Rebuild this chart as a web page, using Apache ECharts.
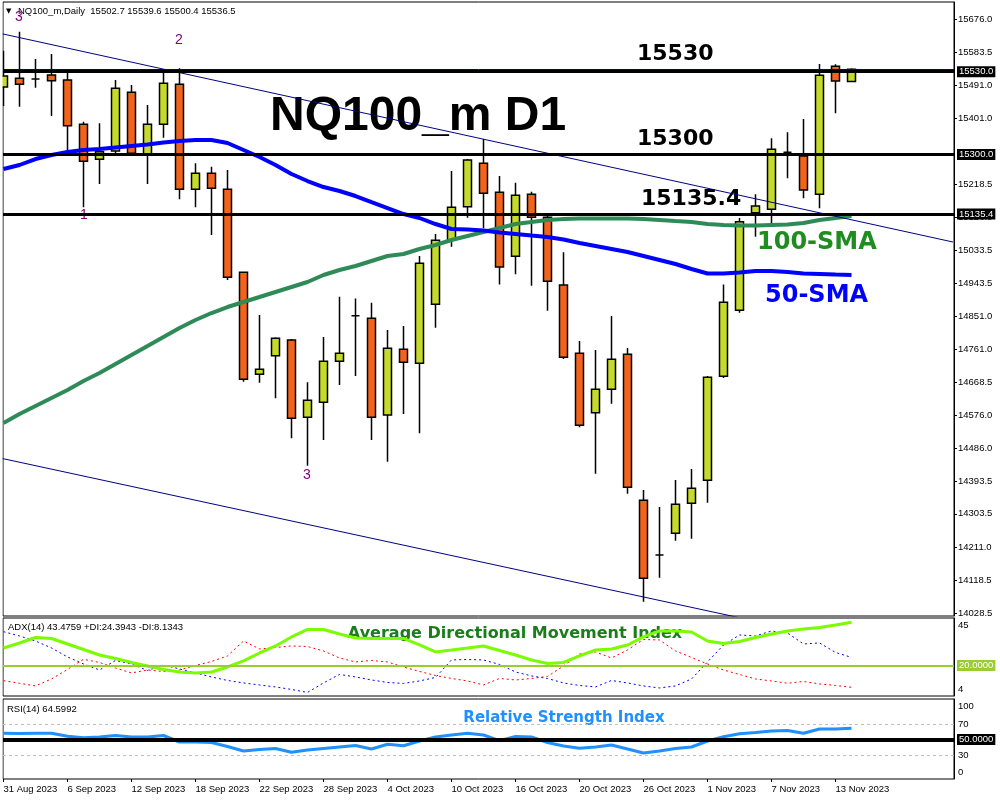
<!DOCTYPE html>
<html><head><meta charset="utf-8">
<script src="https://cdn.jsdelivr.net/npm/echarts@6/dist/echarts.min.js"></script>
<style>html,body{margin:0;padding:0;background:#fff}#c{width:1000px;height:800px}</style>
</head><body><div id="c"></div>
<script>
// ---------- data ----------
const dates = ['31 Aug 2023','1 Sep 2023','4 Sep 2023','5 Sep 2023','6 Sep 2023','7 Sep 2023','8 Sep 2023','11 Sep 2023','12 Sep 2023','13 Sep 2023','14 Sep 2023','15 Sep 2023','18 Sep 2023','19 Sep 2023','20 Sep 2023','21 Sep 2023','22 Sep 2023','25 Sep 2023','26 Sep 2023','27 Sep 2023','28 Sep 2023','29 Sep 2023','2 Oct 2023','3 Oct 2023','4 Oct 2023','5 Oct 2023','6 Oct 2023','9 Oct 2023','10 Oct 2023','11 Oct 2023','12 Oct 2023','13 Oct 2023','16 Oct 2023','17 Oct 2023','18 Oct 2023','19 Oct 2023','20 Oct 2023','23 Oct 2023','24 Oct 2023','25 Oct 2023','26 Oct 2023','27 Oct 2023','30 Oct 2023','31 Oct 2023','1 Nov 2023','2 Nov 2023','3 Nov 2023','6 Nov 2023','7 Nov 2023','8 Nov 2023','9 Nov 2023','10 Nov 2023','13 Nov 2023','14 Nov 2023'];
const opens = [15487.4,15511.5,15509.6,15520.7,15506.8,15383.9,15286.9,15309.9,15472.7,15300.7,15383.9,15495.0,15203.7,15248.0,15203.7,14973.4,14690.5,14742.1,14785.7,14571.3,14612.9,14726.6,14853.0,14845.9,14577.7,14759.9,14721.1,14884.7,15063.0,15155.4,15275.8,15195.4,15017.8,15189.8,15126.0,14938.2,14748.8,14584.1,14649.0,14746.0,14341.0,14189.4,14249.5,14332.7,14396.5,14685.0,14868.0,15138.8,15148.2,15306.3,15296.0,15189.8,15544.8,15502.7];
const closes = [15517.9,15494.9,15509.6,15504.9,15380.1,15281.3,15307.9,15483.8,15303.5,15383.9,15497.7,15203.7,15248.0,15206.4,14959.6,14676.7,14704.4,14790.4,14568.5,14618.4,14726.6,14748.8,14853.0,14571.3,14762.7,14723.8,14998.4,15062.2,15153.7,15284.9,15192.6,14988.1,15187.0,15126.0,14948.5,14737.7,14549.0,14649.0,14732.2,14377.1,14124.7,14189.4,14329.9,14374.4,14682.2,14890.2,15113.8,15157.3,15314.6,15306.3,15201.7,15519.8,15504.0,15536.5];
const lows = [15434.7,15432.8,15485.5,15407.0,15308.0,15153.7,15218.4,15303.5,15298.8,15218.4,15346.8,15176.0,15153.7,15077.0,14952.0,14670.0,14667.0,14624.0,14513.0,14437.0,14508.3,14660.9,14686.0,14508.3,14448.0,14580.4,14527.0,14819.8,15044.5,15124.9,15095.5,14940.0,14967.9,14936.3,14867.0,14733.0,14543.5,14414.9,14609.0,14359.4,14060.0,14126.4,14229.0,14234.6,14334.4,14680.0,14861.4,15072.2,15107.4,15234.2,15178.7,15151.0,15414.5,15500.4];
const highs = [15588.0,15640.8,15565.0,15578.9,15527.0,15391.2,15386.7,15506.8,15492.9,15437.5,15532.6,15539.3,15275.8,15266.4,15257.2,14975.0,14855.0,14793.0,14788.4,14668.4,14794.0,14905.8,14901.0,14889.1,14813.4,14824.5,15018.7,15079.7,15254.4,15287.7,15343.2,15240.6,15222.0,15197.0,15132.0,15029.0,14782.9,14757.9,14852.2,14763.5,14369.6,14322.5,14397.4,14427.9,14685.8,14940.0,15124.0,15189.8,15345.1,15361.8,15398.6,15551.2,15550.4,15539.6];
const sma50 = [15260.0,15271.1,15287.7,15298.8,15307.1,15312.7,15315.4,15319.6,15323.8,15327.9,15333.5,15337.6,15340.4,15340.4,15332.1,15312.7,15293.2,15271.1,15246.1,15226.7,15210.0,15198.9,15185.1,15168.4,15151.8,15135.1,15124.1,15107.4,15093.5,15092.1,15089.4,15083.8,15079.7,15075.5,15071.4,15064.4,15054.7,15046.4,15038.1,15029.8,15018.7,15007.6,14996.5,14982.6,14970.1,14970.1,14972.9,14977.1,14977.1,14974.3,14970.1,14968.7,14967.3,14966.0];
const sma100 = [14555.5,14580.4,14602.6,14624.8,14647.0,14672.0,14694.1,14719.1,14744.1,14769.0,14794.0,14819.0,14841.1,14860.6,14877.2,14891.1,14904.9,14918.8,14932.7,14946.5,14966.0,14979.8,14990.9,15004.8,15018.7,15024.2,15038.1,15049.2,15063.0,15074.1,15085.2,15096.3,15107.4,15113.0,15118.5,15121.3,15122.7,15122.7,15122.7,15122.7,15121.3,15118.5,15115.7,15113.0,15107.4,15104.6,15103.2,15103.2,15104.6,15106.0,15110.2,15118.5,15124.1,15129.6];
const adx = [29.51,32.23,35.22,34.67,31.68,28.70,25.71,23.80,21.63,19.73,17.83,16.47,15.92,16.47,19.18,22.45,26.79,30.60,35.49,39.57,39.57,37.12,34.95,34.67,34.67,34.67,31.14,27.34,28.42,29.51,30.60,28.15,25.71,22.99,21.09,21.63,25.16,28.42,28.97,31.14,35.49,38.75,38.75,38.21,33.32,31.96,33.04,35.22,37.12,38.75,39.84,40.65,42.01,43.48];
const plusDI = [38.37,36.03,33.32,29.51,24.62,20.82,17.55,22.72,20.82,17.28,20.27,18.10,15.92,13.75,11.85,10.49,9.40,8.32,6.96,5.33,10.49,15.11,13.75,12.12,10.76,10.22,11.58,13.48,22.99,23.26,22.99,20.54,16.47,14.29,12.93,10.49,9.13,8.32,11.85,10.49,8.86,7.77,8.86,12.66,21.90,31.14,36.58,36.03,38.75,37.66,31.68,32.23,27.07,24.39];
const minusDI = [11.74,10.33,8.86,12.66,17.83,23.37,21.63,18.64,15.92,17.55,16.74,17.55,20.00,22.17,25.16,33.32,28.97,29.78,30.60,30.33,27.88,24.08,21.90,22.72,21.90,19.18,16.74,14.57,12.93,11.58,9.40,12.93,12.12,12.93,14.02,19.73,26.25,27.34,24.08,28.42,34.13,33.86,27.88,24.35,20.82,17.55,15.11,12.66,11.58,10.33,11.30,9.95,9.13,8.13];
const rsi = [58.13,57.87,58.13,58.13,54.25,52.44,53.34,55.28,53.34,53.34,55.28,46.87,46.87,46.23,41.05,35.23,37.17,38.46,33.55,36.52,38.46,40.40,42.34,37.82,43.90,42.09,48.17,53.34,55.93,58.13,55.93,48.55,53.99,53.34,46.23,41.70,38.72,40.40,42.99,37.82,32.64,35.23,38.46,40.40,48.17,53.73,57.61,59.16,61.10,61.75,58.13,63.69,63.69,64.60];
const priceTicks = [15676.0,15583.5,15491.0,15401.0,15218.5,15126.0,15033.5,14943.5,14851.0,14761.0,14668.5,14576.0,14486.0,14393.5,14303.5,14211.0,14118.5,14028.5];
const dateTicks = [0,4,8,12,16,20,24,28,32,36,40,44,48,52];
const adxTicks = [45,4];
const rsiTicks = [100,70,30,0];
const priceLevels = [15530.0,15300.0,15135.4];
const bidPrice = 15536.5;
const adxLevel = 20;
const rsiLevels = [70,30];
const rsiMid = 50;
const upperChannel = [[-0.22,15636.3],[59.34,15057.5]];
const lowerChannel = [[-0.22,14458.4],[59.34,13887.6]];

// ---------- chart ----------
const F = 'Liberation Sans, Arial, sans-serif';
const FB = 'DejaVu Sans, sans-serif';
const X_MIN = -0.03125, X_MAX = 59.406;
const pair = arr => arr.map((v, i) => [i, v]);
const candleData = opens.map((o, i) => [i, o, closes[i], lows[i], highs[i]]);

const hiddenX = gi => ({type:'value', gridIndex:gi, min:X_MIN, max:X_MAX, axisLine:{show:false, onZero:false}, axisTick:{show:false}, axisLabel:{show:false}, splitLine:{show:false}});
const lbl = {fontSize:9.5, fontFamily:F, color:'#000'};

const option = {
  animation:false,
  backgroundColor:'#ffffff',
  grid:[
    {left:3, top:2, width:951, height:614, show:true, borderColor:'#000', borderWidth:1, backgroundColor:'transparent'},
    {left:3, top:618, width:951, height:78, show:true, borderColor:'#000', borderWidth:1, backgroundColor:'transparent'},
    {left:3, top:699, width:951, height:80, show:true, borderColor:'#000', borderWidth:1, backgroundColor:'transparent'}
  ],
  xAxis:[
    hiddenX(0), hiddenX(1),
    {type:'value', gridIndex:2, min:X_MIN, max:X_MAX, position:'bottom', axisLine:{show:false, onZero:false}, splitLine:{show:false},
     axisTick:{show:true, customValues:dateTicks, length:3, lineStyle:{color:'#000'}},
     axisLabel:Object.assign({customValues:dateTicks, formatter:v => dates[Math.round(v)], align:'left', margin:5}, lbl)}
  ],
  yAxis:[
    {type:'value', gridIndex:0, position:'right', min:14020.2, max:15723.2, splitLine:{show:false},
     axisLine:{show:true, onZero:false, lineStyle:{color:'#000'}},
     axisTick:{show:true, customValues:priceTicks, length:3, lineStyle:{color:'#000'}},
     axisLabel:Object.assign({customValues:priceTicks, formatter:v => v.toFixed(1), margin:4}, lbl)},
    {type:'value', gridIndex:1, position:'right', min:3.4, max:45.8, splitLine:{show:false},
     axisLine:{show:true, onZero:false, lineStyle:{color:'#000'}}, axisTick:{show:false},
     axisLabel:Object.assign({customValues:adxTicks, margin:4,
       formatter:v => v === 45 ? '{dn|45}' : '{up|' + v + '}',
       rich:{dn:{padding:[11,0,0,0], fontSize:9.5, fontFamily:F}, up:{padding:[0,0,11,0], fontSize:9.5, fontFamily:F}}}, lbl)},
    {type:'value', gridIndex:2, position:'right', min:-1, max:102.5, splitLine:{show:false},
     axisLine:{show:true, onZero:false, lineStyle:{color:'#000'}}, axisTick:{show:false},
     axisLabel:Object.assign({customValues:rsiTicks, margin:4,
       formatter:v => v === 100 ? '{dn|100}' : (v === 0 ? '{up|0}' : String(v)),
       rich:{dn:{padding:[11,0,0,0], fontSize:9.5, fontFamily:F}, up:{padding:[0,0,11,0], fontSize:9.5, fontFamily:F}}}, lbl)}
  ],
  series:[
    {type:'candlestick', xAxisIndex:0, yAxisIndex:0, data:candleData, encode:{x:0, y:[1,2,3,4]}, barWidth:9, clip:true,
     itemStyle:{color:'#c6d92e', color0:'#f0641e', borderColor:'#000', borderColor0:'#000', borderColorDoji:'#000', borderWidth:1.5}},
    {type:'line', xAxisIndex:0, yAxisIndex:0, data:pair(sma100), symbol:'none', lineStyle:{color:'#2e8b57', width:4}},
    {type:'line', xAxisIndex:0, yAxisIndex:0, data:pair(sma50), symbol:'none', lineStyle:{color:'#0000ff', width:4}},
    {type:'line', xAxisIndex:0, yAxisIndex:0, data:upperChannel, symbol:'none', lineStyle:{color:'#000080', width:1}},
    {type:'line', xAxisIndex:0, yAxisIndex:0, data:lowerChannel, symbol:'none', lineStyle:{color:'#000080', width:1}},
    {type:'line', xAxisIndex:0, yAxisIndex:0, data:[], clip:false, symbol:'none',
     markLine:{silent:true, symbol:['none','none'], animation:false,
       data:[{yAxis:bidPrice, lineStyle:{color:'#000080', width:1, type:'solid'}, label:{show:false}}].concat(
         priceLevels.map(p => ({yAxis:p, lineStyle:{color:'#000', width:3, type:'solid'},
           label:{show:true, position:'end', distance:3, formatter:p.toFixed(1), backgroundColor:'#000', color:'#fff', padding:[1,2,0,2], fontSize:9.5, fontFamily:F}})))}},
    // ADX pane
    {type:'line', xAxisIndex:1, yAxisIndex:1, data:pair(plusDI), symbol:'none', lineStyle:{color:'#0000ff', width:1, type:[2,3]}},
    {type:'line', xAxisIndex:1, yAxisIndex:1, data:pair(minusDI), symbol:'none', lineStyle:{color:'#ff0000', width:1, type:[2,3]}},
    {type:'line', xAxisIndex:1, yAxisIndex:1, data:[], clip:false, symbol:'none',
     markLine:{silent:true, symbol:['none','none'], animation:false,
       data:[{yAxis:adxLevel, lineStyle:{color:'#9acd32', width:2, type:'solid'},
         label:{show:true, position:'end', distance:3, formatter:adxLevel.toFixed(4), backgroundColor:'#9acd32', color:'#fff', padding:[1,2,0,2], fontSize:9.5, fontFamily:F}}]}},
    {type:'line', xAxisIndex:1, yAxisIndex:1, data:pair(adx), symbol:'none', lineStyle:{color:'#7cfc00', width:3}},
    // RSI pane
    {type:'line', xAxisIndex:2, yAxisIndex:2, data:[], clip:false, symbol:'none',
     markLine:{silent:true, symbol:['none','none'], animation:false,
       data:rsiLevels.map(v => ({yAxis:v, lineStyle:{color:'#c0c0c0', width:1, type:[3,3]}, label:{show:false}}))}},
    {type:'line', xAxisIndex:2, yAxisIndex:2, data:pair(rsi), symbol:'none', lineStyle:{color:'#1e90ff', width:3}},
    {type:'line', xAxisIndex:2, yAxisIndex:2, data:[], clip:false, symbol:'none',
     markLine:{silent:true, symbol:['none','none'], animation:false,
       data:[{yAxis:rsiMid, lineStyle:{color:'#000', width:4, type:'solid'},
         label:{show:true, position:'end', distance:3, formatter:rsiMid.toFixed(4), backgroundColor:'#000', color:'#fff', padding:[1,2,0,2], fontSize:9.5, fontFamily:F}}]}}
  ],
  graphic:[
    // white margin left of the price pane (hides the part of the first candle outside the pane)
    {type:'rect', z:100, shape:{x:0, y:0, width:2.5, height:800}, style:{fill:'#ffffff'}},
    {type:'text', x:6, y:11, z:1, style:{text:'▼', font:'7px DejaVu Sans', fill:'#000', verticalAlign:'middle'}},
    {type:'text', x:18, y:11, z:1, style:{text:'NQ100_m,Daily  15502.7 15539.6 15500.4 15536.5', font:'9.5px ' + F, fill:'#000', verticalAlign:'middle'}},
    {type:'text', x:19, y:17, z:1, style:{text:'3', font:'14px ' + F, fill:'#800080', align:'center', verticalAlign:'middle'}},
    {type:'text', x:179, y:40, z:1, style:{text:'2', font:'14px ' + F, fill:'#800080', align:'center', verticalAlign:'middle'}},
    {type:'text', x:84, y:215, z:1, style:{text:'1', font:'14px ' + F, fill:'#800080', align:'center', verticalAlign:'middle'}},
    {type:'text', x:307, y:475, z:1, style:{text:'3', font:'14px ' + F, fill:'#800080', align:'center', verticalAlign:'middle'}},
    {type:'text', x:270, y:117, z:1, style:{text:'NQ100_m D1', font:'bold 48px ' + F, fill:'#000', verticalAlign:'middle'}},
    {type:'text', x:637, y:54, z:1, style:{text:'15530', font:'bold 22px ' + FB, fill:'#000', verticalAlign:'middle'}},
    {type:'text', x:637, y:139, z:1, style:{text:'15300', font:'bold 22px ' + FB, fill:'#000', verticalAlign:'middle'}},
    {type:'text', x:641, y:199, z:1, style:{text:'15135.4', font:'bold 22px ' + FB, fill:'#000', verticalAlign:'middle'}},
    {type:'text', x:757, y:243, z:1, style:{text:'100-SMA', font:'bold 24px ' + FB, fill:'#1e8c1e', verticalAlign:'middle'}},
    {type:'text', x:765, y:296, z:1, style:{text:'50-SMA', font:'bold 24px ' + FB, fill:'#0000ff', verticalAlign:'middle'}},
    {type:'text', x:8, y:627, z:1, style:{text:'ADX(14) 43.4759 +DI:24.3943 -DI:8.1343', font:'9.5px ' + F, fill:'#000', verticalAlign:'middle'}},
    {type:'text', x:515, y:634, z:1, style:{text:'Average Directional Movement Index', font:'bold 16px ' + FB, fill:'#1a7d1a', align:'center', verticalAlign:'middle'}},
    {type:'text', x:7, y:709, z:1, style:{text:'RSI(14) 64.5992', font:'9.5px ' + F, fill:'#000', verticalAlign:'middle'}},
    {type:'text', x:564, y:718, z:1, style:{text:'Relative Strength Index', font:'bold 15px ' + FB, fill:'#1e90ff', align:'center', verticalAlign:'middle'}}
  ]
};
const chart = echarts.init(document.getElementById('c'), null, {renderer:'canvas', width:1000, height:800});
chart.setOption(option);
</script>
</body></html>
